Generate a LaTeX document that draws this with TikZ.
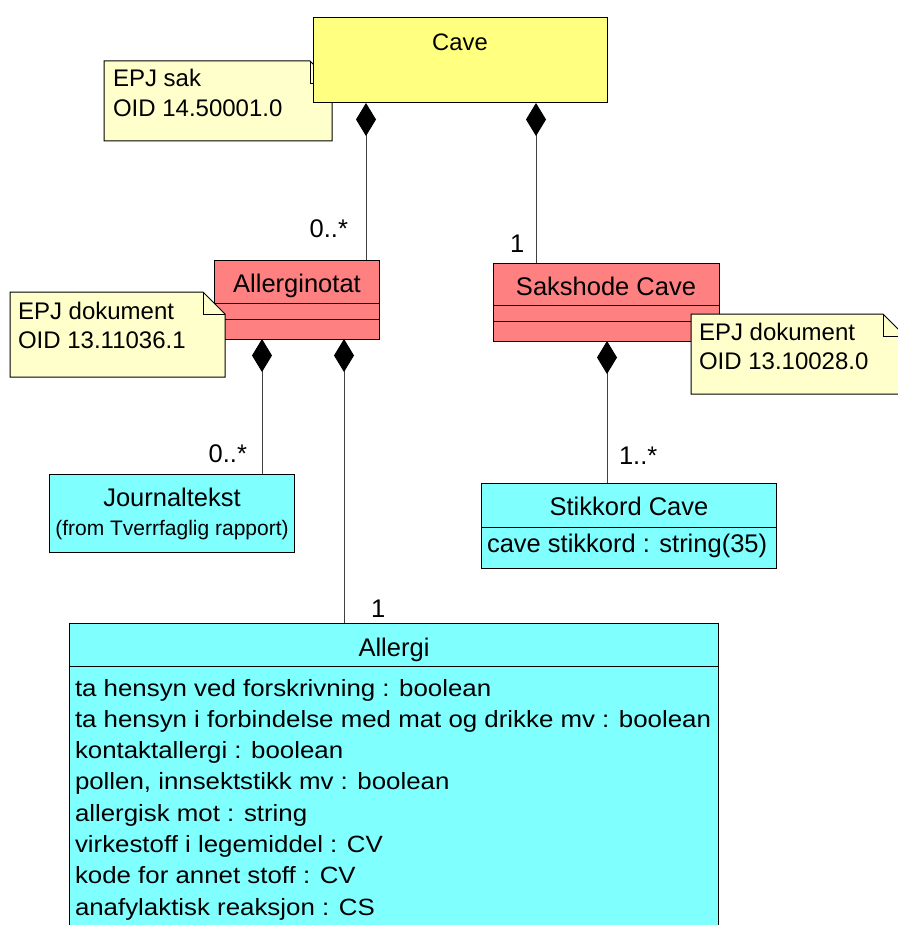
\documentclass[tikz,border=0pt]{standalone}
\usepackage{fontspec}
\setmainfont{Liberation Sans}
\newfontfamily\attrfont[FakeStretch=1.1]{Liberation Sans}
\usetikzlibrary{arrows.meta,calc}
\definecolor{cavey}{HTML}{FFFF80}
\definecolor{notey}{HTML}{FFFFCC}
\definecolor{classr}{HTML}{FF8080}
\definecolor{classc}{HTML}{80FFFF}
\definecolor{linegray}{HTML}{404040}
\begin{document}
\begin{tikzpicture}[x=1pt,y=-1pt,
  umlbox/.style={draw=black, line width=1pt, anchor=north west, inner sep=0pt, outer sep=0pt},
  noteplace/.style={draw=none, anchor=north west, inner sep=0pt, outer sep=0pt},
  noteline/.style={draw=black, line width=1pt, fill=notey},
  foldline/.style={draw=black, line width=0.8pt},
  divline/.style={draw=black, line width=0.8pt},
  txtbase/.style={inner sep=0pt, outer sep=0pt, text=black},
  tnote/.style={txtbase, anchor=base west, font=\fontsize{24}{28}\selectfont},
  tcave/.style={txtbase, anchor=base, font=\fontsize{23.8}{28}\selectfont},
  tclass/.style={txtbase, anchor=base, font=\fontsize{25.5}{30}\selectfont},
  tsmall/.style={txtbase, anchor=base, font=\fontsize{21}{25}\selectfont},
  tattr/.style={txtbase, anchor=base west, font=\attrfont\fontsize{23.5}{28}\selectfont},
  tattrb/.style={txtbase, anchor=base west, font=\fontsize{25.5}{30}\selectfont},
  tmult/.style={txtbase, font=\fontsize{25.5}{30}\selectfont},
  comp/.style={draw=linegray, line width=0.9pt,
    {Diamond[length=33pt,width=20pt,fill=black,color=black]}-}
]
\useasboundingbox (0,0) rectangle (897,925);
\fill[white] (0,0) rectangle (897,925);

% note EPJ sak
\node[noteplace, minimum width=228pt, minimum height=80pt] (nsak) at (104,61) {};
\draw[noteline] (nsak.south west) -- (nsak.north west) -- ($(nsak.north east)+(-22,0)$) -- ($(nsak.north east)+(0,22)$) -- (nsak.south east) -- cycle;
\draw[foldline] ($(nsak.north east)+(-22,0)$) -- ($(nsak.north east)+(-22,22)$) -- ($(nsak.north east)+(0,22)$);
\node[tnote] (nsak1) at (113,87) {EPJ sak};
\node[tnote] (nsak2) at (113,117) {OID 14.50001.0};

% Cave
\node[umlbox, fill=cavey, minimum width=294pt, minimum height=85pt] (cave) at (313,18) {};
\node[tcave] (cavet) at (460,51) {Cave};

% Allerginotat
\node[umlbox, fill=classr, minimum width=165pt, minimum height=79pt] (anot) at (214,260) {};
\draw[divline] ($(anot.north west)+(0,43)$) -- ($(anot.north east)+(0,43)$);
\draw[divline] ($(anot.north west)+(0,59)$) -- ($(anot.north east)+(0,59)$);
\node[tclass] (anott) at (297,292) {Allerginotat};

% note EPJ dokument (left)
\node[noteplace, minimum width=215pt, minimum height=85pt] (nleft) at (10,292) {};
\draw[noteline] (nleft.south west) -- (nleft.north west) -- ($(nleft.north east)+(-22,0)$) -- ($(nleft.north east)+(0,22)$) -- (nleft.south east) -- cycle;
\draw[foldline] ($(nleft.north east)+(-22,0)$) -- ($(nleft.north east)+(-22,22)$) -- ($(nleft.north east)+(0,22)$);
\node[tnote] (nleft1) at (18,319) {EPJ dokument};
\node[tnote] (nleft2) at (18,348) {OID 13.11036.1};

% Sakshode Cave
\node[umlbox, fill=classr, minimum width=226pt, minimum height=78pt] (sakh) at (493,263) {};
\draw[divline] ($(sakh.north west)+(0,42)$) -- ($(sakh.north east)+(0,42)$);
\draw[divline] ($(sakh.north west)+(0,58)$) -- ($(sakh.north east)+(0,58)$);
\node[tclass] (sakht) at (606,295) {Sakshode Cave};

% note EPJ dokument (right)
\node[noteplace, minimum width=214pt, minimum height=80pt] (nright) at (691,314) {};
\draw[noteline] (nright.south west) -- (nright.north west) -- ($(nright.north east)+(-22,0)$) -- ($(nright.north east)+(0,22)$) -- (nright.south east) -- cycle;
\draw[foldline] ($(nright.north east)+(-22,0)$) -- ($(nright.north east)+(-22,22)$) -- ($(nright.north east)+(0,22)$);
\node[tnote] (nright1) at (699,340) {EPJ dokument};
\node[tnote] (nright2) at (699,369) {OID 13.10028.0};

% Journaltekst
\node[umlbox, fill=classc, minimum width=245pt, minimum height=78pt] (jt) at (49,474) {};
\node[tclass] (jtt) at (172,506) {Journaltekst};
\node[tsmall] (jts) at (172,535) {(from Tverrfaglig rapport)};

% Stikkord Cave
\node[umlbox, fill=classc, minimum width=295pt, minimum height=85pt] (sk) at (481,483) {};
\draw[divline] ($(sk.north west)+(0,44)$) -- ($(sk.north east)+(0,44)$);
\node[tclass] (skt) at (629,515) {Stikkord Cave};
\node[tattrb] (ska) at (487,552) {cave stikkord : string(35)};

% Allergi
\node[umlbox, fill=classc, minimum width=649pt, minimum height=320pt] (al) at (69,623) {};
\draw[divline] ($(al.north west)+(0,43)$) -- ($(al.north east)+(0,43)$);
\node[tclass] (alt) at (394,656) {Allergi};
\node[tattr] (al1) at (75,696) {ta hensyn ved forskrivning : boolean};
\node[tattr] (al2) at (75,727) {ta hensyn i forbindelse med mat og drikke mv : boolean};
\node[tattr] (al3) at (75,758) {kontaktallergi : boolean};
\node[tattr] (al4) at (75,789) {pollen, innsektstikk mv : boolean};
\node[tattr] (al5) at (75,821) {allergisk mot : string};
\node[tattr] (al6) at (75,852) {virkestoff i legemiddel : CV};
\node[tattr] (al7) at (75,883) {kode for annet stoff : CV};
\node[tattr] (al8) at (75,915) {anafylaktisk reaksjon : CS};

% connector x positions
\coordinate (x1) at (366,0);
\coordinate (x2) at (536,0);
\coordinate (x3) at (262,0);
\coordinate (x4) at (344,0);
\coordinate (x5) at (607,0);

\draw[comp] (cave.south -| x1) -- (anot.north -| x1);
\draw[comp] (cave.south -| x2) -- (sakh.north -| x2);
\draw[comp] (anot.south -| x3) -- (jt.north -| x3);
\draw[comp] (anot.south -| x4) -- (al.north -| x4);
\draw[comp] (sakh.south -| x5) -- (sk.north -| x5);

% multiplicities
\node[tmult, anchor=base east] (m1) at (348,237) {0..*};
\node[tmult, anchor=base west] (m2) at (510,252) {1};
\node[tmult, anchor=base east] (m3) at (247,462) {0..*};
\node[tmult, anchor=base west] (m4) at (619,464) {1..*};
\node[tmult, anchor=base west] (m5) at (371,617) {1};
\end{tikzpicture}
\end{document}
